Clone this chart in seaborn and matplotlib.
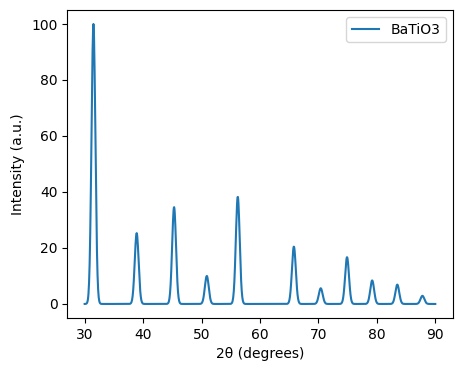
import numpy as np
import pandas as pd
import seaborn as sns
import matplotlib
matplotlib.use('Agg')
import matplotlib.pyplot as plt

# peak list
peak_pos = [31.5, 38.9, 45.3, 50.9, 56.2, 65.8, 70.4, 74.9, 79.2, 83.5, 87.8]
peak_int = [100, 25.3, 34.6, 10.0, 38.3, 20.5, 5.6, 16.7, 8.4, 6.9, 2.9]
peak_sigma = 0.33

two_theta = np.linspace(30, 90, 1200)
intensity = np.zeros_like(two_theta)
for p, h in zip(peak_pos, peak_int):
    intensity += h * np.exp(-0.5 * ((two_theta - p) / peak_sigma) ** 2)

df = pd.DataFrame({'2theta': two_theta, 'intensity': intensity})

fig, ax = plt.subplots(figsize=(4.63, 3.71), dpi=100)
fig.subplots_adjust(left=0.145, right=0.978, top=0.973, bottom=0.143)

sns.lineplot(data=df, x='2theta', y='intensity', ax=ax, label='BaTiO3', linewidth=1.5)

ax.set_xlabel('2θ (degrees)')
ax.set_ylabel('Intensity (a.u.)')
ax.legend(loc='upper right')

fig.savefig('out.png', dpi=100)
